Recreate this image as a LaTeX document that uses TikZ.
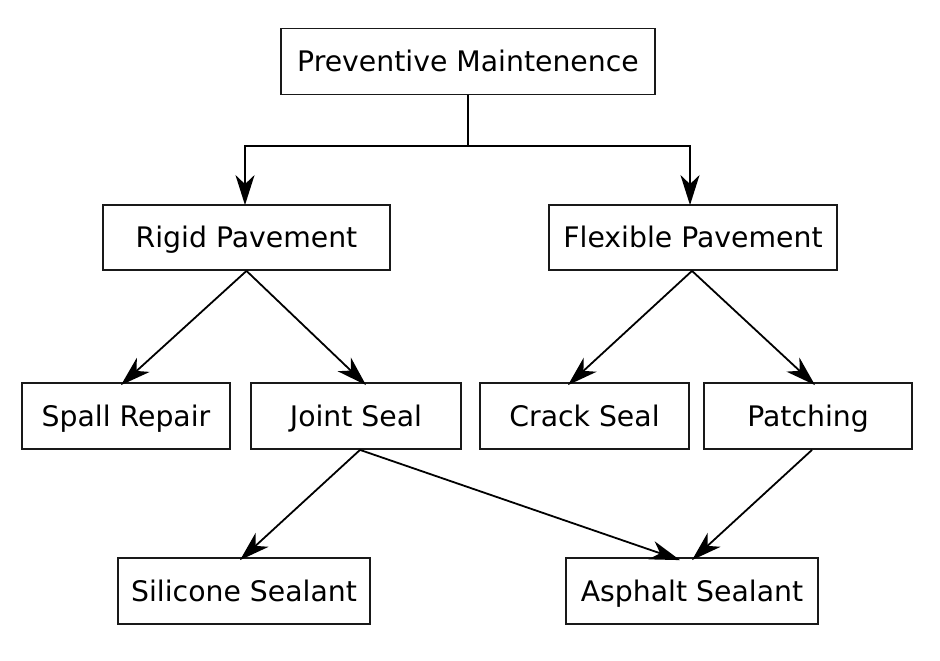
\documentclass[tikz,border=0pt]{standalone}
\usepackage{fontspec}
\setmainfont{DejaVu Sans}
\usetikzlibrary{arrows.meta}
\begin{document}
\begin{tikzpicture}[x=1pt,y=-1pt,
  box/.style={draw=black!90,line width=1.8pt,minimum height=66pt,inner sep=0pt,
    text height=20.5pt,text depth=0pt,
    font=\fontsize{28.3}{34}\selectfont},
  arr/.style={draw=black,line width=1.8pt,-{Stealth[length=30pt,width=19pt,inset=9pt]}},
  ln/.style={draw=black,line width=1.8pt}]
\useasboundingbox (0,0) rectangle (940,661);
\node[box,minimum width=374pt] (pm) at (468,61.5) {Preventive Maintenence};
\node[box,minimum width=287pt,minimum height=65pt] (rigid) at (246.5,237.5) {Rigid Pavement};
\node[box,minimum width=288pt,minimum height=65pt] (flex) at (693,237.5) {Flexible Pavement};
\node[box,minimum width=208pt] (spall) at (126,416) {Spall Repair};
\node[box,minimum width=210pt] (joint) at (356,416) {Joint Seal};
\node[box,minimum width=209pt] (crack) at (584.5,416) {Crack Seal};
\node[box,minimum width=208pt] (patch) at (808,416) {Patching};
\node[box,minimum width=252pt] (sil) at (244,591) {Silicone Sealant};
\node[box,minimum width=252pt] (asph) at (692,591) {Asphalt Sealant};
\coordinate (split) at (468,146);
\draw[ln] (pm.south) -- (split);
\draw[arr] (split) -| ([yshift=-1pt]rigid.north -| 245,0);
\draw[arr] (split) -| ([yshift=-1pt]flex.north -| 690,0);
\draw[arr] (rigid.south) -- ([xshift=-5pt,yshift=-3pt]spall.north);
\draw[arr] (rigid.south) -- ([xshift=10pt,yshift=-3pt]joint.north);
\draw[arr] ([xshift=-1pt]flex.south) -- ([xshift=-16.5pt,yshift=-3pt]crack.north);
\draw[arr] ([xshift=-1pt]flex.south) -- ([xshift=7pt,yshift=-3pt]patch.north);
\draw[arr] ([xshift=4pt]joint.south) -- ([xshift=-4pt,yshift=-3pt]sil.north);
\draw[arr] ([xshift=4pt]joint.south) -- ([xshift=-12pt,yshift=-3pt]asph.north);
\draw[arr] ([xshift=4pt]patch.south) -- ([xshift=0pt,yshift=-3pt]asph.north);
\end{tikzpicture}
\end{document}
